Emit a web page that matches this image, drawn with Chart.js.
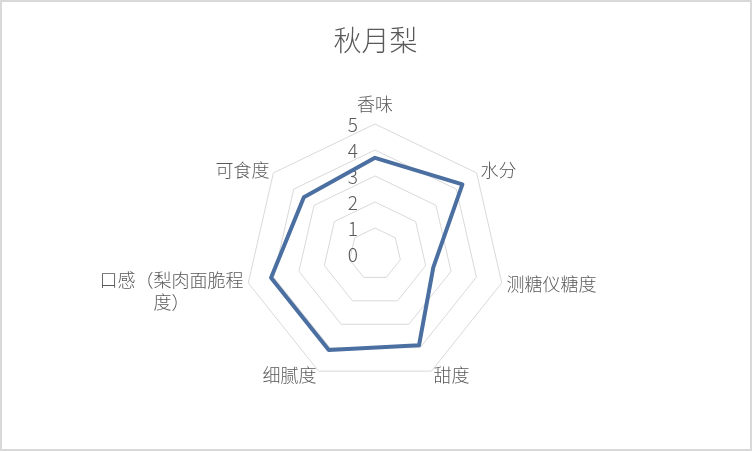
<!DOCTYPE html>
<html>
<head>
<meta charset="utf-8">
<script src="https://cdn.jsdelivr.net/npm/chart.js@4"></script>
<style>
    html, body { margin: 0; padding: 0; background: #ffffff; }
    #wrap { width: 752px; height: 452px; position: relative; }
</style>
</head>
<body>
<div id="wrap"><canvas id="radarChart"></canvas></div>
<script>
const chartTitle = '秋月梨';
const categories = ['香味', '水分', '测糖仪糖度', '甜度', '细腻度', ['口感（梨肉面脆程', '度）'], '可食度'];
const scores = [3.7, 4.3, 2.3, 3.9, 4.1, 4.1, 3.5];
const scaleMin = 0;
const scaleMax = 5;
const scaleStep = 1;

const textColor = '#595959';
const fontFamily = '"Noto Sans CJK SC", "Noto Sans", sans-serif';

// frame around the whole picture
const framePlugin = {
    id: 'frame',
    beforeDraw(chart) {
        const ctx = chart.ctx;
        ctx.save();
        ctx.strokeStyle = '#d9d9d9';
        ctx.lineWidth = 2;
        ctx.strokeRect(1, 1, chart.width - 2, chart.height - 3);
        ctx.restore();
    }
};

// tick numbers sit left of the vertical axis, like the office chart
const tickLabelPlugin = {
    id: 'tickLabels',
    beforeDatasetsDraw(chart) {
        const scale = chart.scales.r;
        const ctx = chart.ctx;
        ctx.save();
        ctx.font = '300 19px ' + fontFamily;
        ctx.fillStyle = textColor;
        ctx.textAlign = 'right';
        ctx.textBaseline = 'middle';
        scale.ticks.forEach(t => {
            const p = scale.getPointPositionForValue(0, t.value);
            ctx.fillText(String(t.value), p.x - 17, p.y + 1);
        });
        ctx.restore();
    }
};

const pointLabelPlugin = {
    id: 'pointLabelsCustom',
    afterDraw(chart) {
        const scale = chart.scales.r;
        const ctx = chart.ctx;
        const lineH = 22;
        ctx.save();
        ctx.font = '300 18px ' + fontFamily;
        ctx.fillStyle = textColor;
        ctx.textBaseline = 'middle';
        chart.data.labels.forEach((label, i) => {
            const angle = scale.getIndexAngle(i);
            const s = Math.sin(angle);
            const c = Math.cos(angle);
            const extra = c > 0.9 ? 20 : 5;
            const p = scale.getPointPosition(i, scale.drawingArea + extra);
            const lines = Array.isArray(label) ? label : [label];
            let align = 'center';
            if (s > 0.1) align = 'left';
            if (s < -0.1) align = 'right';
            const widest = Math.max(...lines.map(l => ctx.measureText(l).width));
            let top = p.y;
            if (lines.length > 1) top = p.y - 4;
            lines.forEach((line, k) => {
                let x = p.x;
                ctx.textAlign = 'center';
                if (align === 'left') x = p.x + widest / 2;
                if (align === 'right') x = p.x - widest / 2;
                ctx.fillText(line, x, top + k * lineH);
            });
        });
        ctx.restore();
    }
};

const ctx = document.getElementById('radarChart');
ctx.width = 752;
ctx.height = 452;

new Chart(ctx, {
    type: 'radar',
    data: {
        labels: categories,
        datasets: [{
            label: chartTitle,
            data: scores,
            borderColor: '#4a6fa0',
            backgroundColor: 'rgba(0,0,0,0)',
            borderWidth: 4,
            borderJoinStyle: 'round',
            fill: false,
            pointRadius: 0,
            pointHoverRadius: 0
        }]
    },
    options: {
        responsive: false,
        animation: false,
        devicePixelRatio: 1,
        layout: {
            padding: { top: 0, bottom: 68, left: 245, right: 246 }
        },
        plugins: {
            legend: { display: false },
            tooltip: { enabled: false },
            title: {
                display: true,
                text: chartTitle,
                color: textColor,
                font: { family: fontFamily, size: 28, weight: 300, lineHeight: 1.2 },
                padding: { top: 23.2, bottom: 67.2 }
            }
        },
        scales: {
            r: {
                min: scaleMin,
                max: scaleMax,
                beginAtZero: true,
                angleLines: { display: false },
                grid: { color: '#d9d9d9', lineWidth: 1 },
                ticks: { display: false, stepSize: scaleStep },
                pointLabels: { display: false }
            }
        }
    },
    plugins: [framePlugin, tickLabelPlugin, pointLabelPlugin]
});
</script>
</body>
</html>
